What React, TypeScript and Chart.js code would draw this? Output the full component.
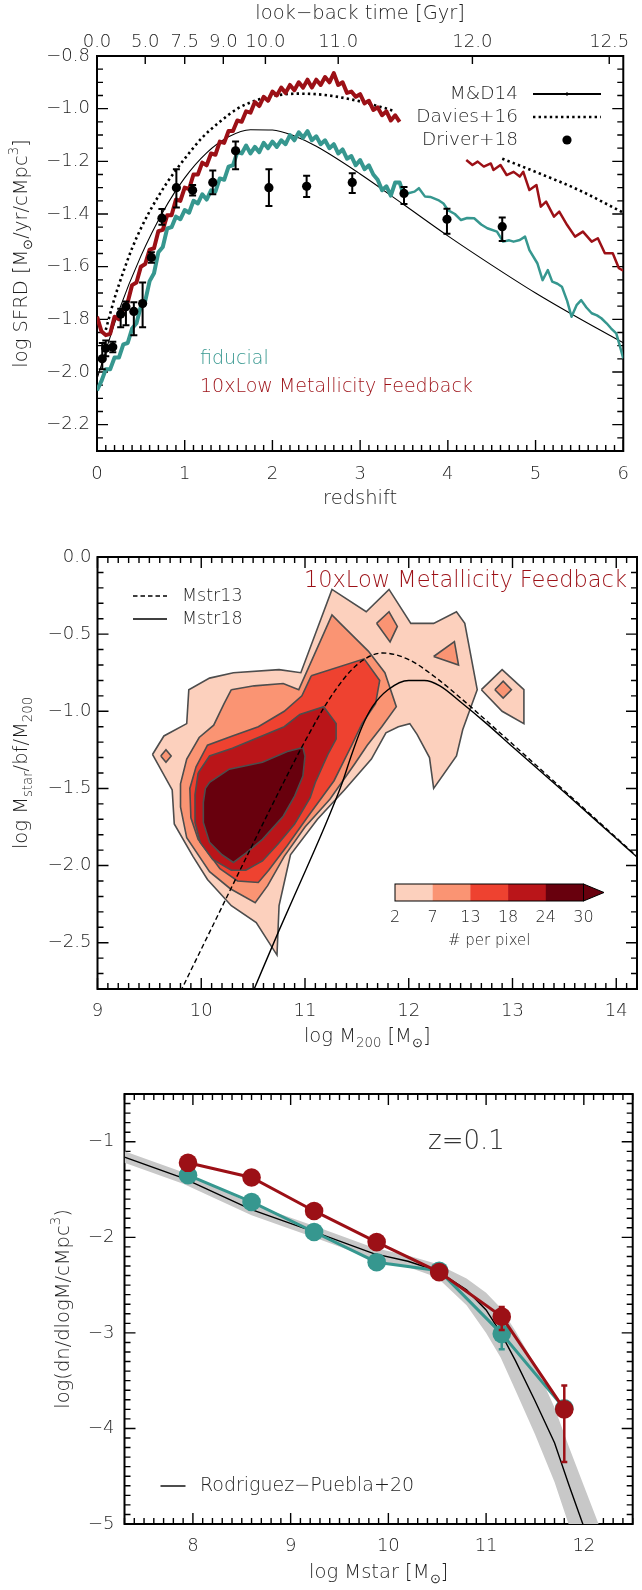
import React, { useEffect, useRef } from 'react';
import { Chart, registerables } from 'chart.js';

Chart.register(...registerables);

const FONT = "'DejaVu Sans', 'Liberation Sans', sans-serif";
const WEIGHT = 300;
const INK = '#1e1e1e';
const TEAL = '#36978f';
const CRIMSON = '#9c1016';
const TICK_SIZE = 18;
const TITLE_SIZE = 19.5;

// ---------------- Cosmic star-formation-rate density ----------------
const redshiftTicks = [0, 1, 2, 3, 4, 5, 6];
const sfrdTicks = [-2.2, -2.0, -1.8, -1.6, -1.4, -1.2, -1.0, -0.8];
const lookbackTickZ = [0, 0.55, 1.0, 1.44, 1.92, 2.75, 4.28, 5.84];
const lookbackTickLabels = ['0.0', '5.0', '7.5', '9.0', '10.0', '11.0', '12.0', '12.5'];

const md14Z = [0, 0.25, 0.5, 0.75, 1, 1.25, 1.5, 1.75, 2, 2.25, 2.5, 3, 3.5, 4, 4.5, 5, 5.5, 6];
const md14Sfrd = [-2.026, -1.767, -1.56, -1.393, -1.263, -1.168, -1.107, -1.08, -1.081, -1.104, -1.143, -1.248, -1.365, -1.483, -1.594, -1.7, -1.797, -1.889];

const davies16Z = [0.1, 0.2, 0.3, 0.4, 0.5, 0.6, 0.8, 1.0, 1.2, 1.4, 1.6, 1.8, 2.0, 2.3, 2.6, 2.9, 3.2, 3.4, 4.0, 4.62, 5.0, 5.5, 6.0];
const davies16Sfrd = [-1.84, -1.72, -1.62, -1.53, -1.455, -1.39, -1.28, -1.19, -1.11, -1.05, -1.0, -0.97, -0.952, -0.943, -0.948, -0.965, -0.99, -1.01, null, -1.19, -1.24, -1.31, -1.395];

const driver18Z = [0.06, 0.1, 0.18, 0.27, 0.33, 0.42, 0.52, 0.62, 0.74, 0.905, 1.09, 1.32, 1.58, 1.96, 2.39, 2.91, 3.5, 3.99, 4.62];
const driver18Sfrd = [-1.95, -1.91, -1.905, -1.78, -1.752, -1.77, -1.74, -1.565, -1.416, -1.3, -1.31, -1.28, -1.16, -1.3, -1.295, -1.28, -1.322, -1.42, -1.448];
const driver18ErrUp = [0.06, 0.03, 0.02, 0.02, 0.02, 0.035, 0.08, 0.02, 0.035, 0.07, 0.02, 0.045, 0.035, 0.07, 0.04, 0.035, 0.025, 0.04, 0.035];
const driver18ErrDown = [0.04, 0.03, 0.02, 0.05, 0.07, 0.09, 0.09, 0.02, 0.025, 0.075, 0.02, 0.045, 0.07, 0.07, 0.04, 0.04, 0.04, 0.055, 0.055];

const fiducialZ = [
  0, 0.05, 0.1, 0.15, 0.2, 0.25, 0.3, 0.35, 0.4, 0.45, 0.5, 0.55, 0.6, 0.65, 0.7, 0.75, 0.8, 0.85, 0.9, 0.95,
  1, 1.05, 1.1, 1.15, 1.2, 1.25, 1.3, 1.35, 1.4, 1.45, 1.5, 1.55, 1.6, 1.65, 1.7, 1.75, 1.8, 1.85, 1.9, 1.95,
  2, 2.05, 2.1, 2.15, 2.2, 2.25, 2.3, 2.35, 2.4, 2.45, 2.5, 2.55, 2.6, 2.65, 2.7, 2.75, 2.8, 2.85, 2.9, 2.95,
  3, 3.05, 3.1, 3.15, 3.2, 3.25, 3.3, 3.35, 3.4, 3.45,
  3.5, 3.56, 3.62, 3.67, 3.74, 3.8, 3.89, 3.95, 4.0, 4.08, 4.15, 4.22, 4.3, 4.38, 4.45, 4.56, 4.63, 4.7, 4.75, 4.82,
  4.88, 4.93, 5.02, 5.08, 5.14, 5.19, 5.25, 5.3, 5.36, 5.41, 5.47, 5.52, 5.58, 5.64, 5.7, 5.75, 5.81, 5.86, 5.92, 5.96, 6.0,
];
const fiducialSfrd = [
  -2.07, -2.035, -1.99, -1.99, -1.945, -1.945, -1.895, -1.89, -1.835, -1.815,
  -1.75, -1.73, -1.655, -1.625, -1.545, -1.525, -1.455, -1.45, -1.41, -1.42,
  -1.385, -1.395, -1.35, -1.36, -1.325, -1.345, -1.31, -1.315, -1.265, -1.27,
  -1.22, -1.215, -1.165, -1.17, -1.14, -1.17, -1.145, -1.165, -1.13, -1.15,
  -1.125, -1.145, -1.12, -1.135, -1.1, -1.12, -1.09, -1.11, -1.085, -1.12,
  -1.105, -1.135, -1.12, -1.15, -1.135, -1.17, -1.155, -1.19, -1.18, -1.215,
  -1.195, -1.23, -1.215, -1.25, -1.27, -1.31, -1.295, -1.33, -1.28, -1.28,
  -1.33, -1.32, -1.315, -1.302, -1.334, -1.335, -1.347, -1.36, -1.385, -1.4,
  -1.423, -1.415, -1.416, -1.44, -1.454, -1.467, -1.505, -1.5, -1.505, -1.499,
  -1.486, -1.537, -1.587, -1.651, -1.613, -1.657, -1.665, -1.676, -1.73, -1.79,
  -1.745, -1.727, -1.755, -1.777, -1.785, -1.796, -1.815, -1.834, -1.853, -1.9, -1.948,
];

const lowZFeedbackZ = [
  0, 0.05, 0.1, 0.15, 0.2, 0.25, 0.3, 0.35, 0.4, 0.45, 0.5, 0.55, 0.6, 0.65, 0.7, 0.75, 0.8, 0.85, 0.9, 0.95,
  1, 1.05, 1.1, 1.15, 1.2, 1.25, 1.3, 1.35, 1.4, 1.45, 1.5, 1.55, 1.6, 1.65, 1.7, 1.75, 1.8, 1.85, 1.9, 1.95,
  2, 2.05, 2.1, 2.15, 2.2, 2.25, 2.3, 2.35, 2.4, 2.45, 2.5, 2.55, 2.6, 2.65, 2.7, 2.75, 2.8, 2.85, 2.9, 2.95,
  3, 3.05, 3.1, 3.15, 3.2, 3.25, 3.3, 3.35, 3.4, 3.45, 3.8,
  4.21, 4.28, 4.34, 4.41, 4.49, 4.52, 4.6, 4.67, 4.75, 4.82, 4.86, 4.93, 5.01, 5.06, 5.12, 5.21, 5.27, 5.36, 5.45, 5.54,
  5.64, 5.71, 5.79, 5.88, 5.95, 6.0,
];
const lowZFeedbackSfrd = [
  -1.79, -1.845, -1.86, -1.855, -1.79, -1.8, -1.76, -1.735, -1.67, -1.66,
  -1.6, -1.59, -1.535, -1.53, -1.465, -1.46, -1.405, -1.405, -1.345, -1.35,
  -1.3, -1.305, -1.25, -1.25, -1.205, -1.215, -1.17, -1.175, -1.125, -1.13,
  -1.085, -1.085, -1.045, -1.05, -1.01, -1.015, -0.975, -0.99, -0.955, -0.97,
  -0.935, -0.95, -0.92, -0.94, -0.91, -0.93, -0.9, -0.92, -0.89, -0.92,
  -0.89, -0.91, -0.88, -0.9, -0.865, -0.91, -0.9, -0.94, -0.935, -0.955,
  -0.945, -0.98, -0.97, -1.005, -0.995, -1.025, -1.01, -1.045, -1.025, -1.05, null,
  -1.195, -1.214, -1.201, -1.22, -1.208, -1.233, -1.214, -1.252, -1.24, -1.258,
  -1.24, -1.309, -1.29, -1.372, -1.353, -1.41, -1.391, -1.442, -1.486, -1.467,
  -1.505, -1.492, -1.549, -1.549, -1.606, -1.615,
];

// ---------------- Stellar-to-halo mass relation ----------------
const haloMassTicks = [9, 10, 11, 12, 13, 14];
const shmrTicks = [-2.5, -2.0, -1.5, -1.0, -0.5, 0.0];
const contourLevels = [2, 7, 13, 18, 24, 30];
const contourColors = ['#fcd0bd', '#fa9473', '#ee4230', '#ba1519', '#68000d'];

const contourLevel1 = [
  [9.53, -1.28], [9.64, -1.16], [9.86, -1.08], [9.88, -0.86], [10.08, -0.785], [10.31, -0.75], [10.75, -0.73],
  [10.96, -0.75], [11.26, -0.21], [11.59, -0.355], [11.81, -0.21], [12.02, -0.43], [12.24, -0.43], [12.46, -0.355],
  [12.54, -0.43], [12.66, -0.86], [12.6, -0.97], [12.52, -1.12], [12.46, -1.29], [12.24, -1.5], [12.2, -1.3],
  [12.08, -1.15], [12.01, -1.08], [11.9, -1.1], [11.78, -1.14], [11.64, -1.31], [11.38, -1.51], [11.12, -1.7],
  [10.86, -1.93], [10.82, -2.05], [10.75, -2.26], [10.73, -2.58], [10.53, -2.37], [10.29, -2.26], [10.06, -2.09],
  [9.92, -1.94], [9.74, -1.73], [9.72, -1.51],
];
const contourLevel1Island = [[12.7, -0.86], [12.9, -0.73], [13.11, -0.86], [13.11, -1.08], [12.9, -1.0]];
const contourLevel2 = [
  [10.29, -0.86], [10.51, -0.835], [10.79, -0.82], [10.94, -0.86], [11.26, -0.375], [11.34, -0.43], [11.61, -0.61],
  [11.77, -0.75], [11.88, -0.97], [11.74, -1.1], [11.6, -1.22], [11.48, -1.34], [11.24, -1.57], [11.0, -1.75],
  [10.8, -1.94], [10.64, -2.13], [10.52, -2.24], [10.28, -2.15], [10.08, -2.04], [9.86, -1.82], [9.8, -1.62],
  [9.8, -1.47], [9.86, -1.31], [9.98, -1.17], [10.12, -1.09], [10.22, -0.95],
];
const contourLevel2Islands = [
  [[9.61, -1.29], [9.66, -1.25], [9.71, -1.29], [9.66, -1.33]],
  [[11.69, -0.43], [11.81, -0.355], [11.89, -0.45], [11.82, -0.55]],
  [[12.24, -0.645], [12.44, -0.548], [12.48, -0.7]],
  [[12.83, -0.86], [12.91, -0.805], [12.99, -0.86], [12.91, -0.915]],
];
const contourLevel3 = [
  [11.06, -0.77], [11.57, -0.66], [11.72, -0.8], [11.68, -0.95], [11.55, -1.08], [11.45, -1.22], [11.28, -1.45],
  [11.03, -1.68], [10.83, -1.87], [10.65, -2.03], [10.55, -2.11], [10.35, -2.1], [10.18, -2.02], [9.97, -1.83],
  [9.9, -1.69], [9.89, -1.5], [9.95, -1.36], [10.06, -1.22], [10.3, -1.16], [10.55, -1.1], [10.8, -1.0], [10.97, -0.9],
];
const contourLevel4 = [
  [9.97, -1.4], [10.08, -1.29], [10.3, -1.24], [10.55, -1.17], [10.8, -1.1], [10.95, -1.02], [11.18, -0.97],
  [11.3, -1.08], [11.3, -1.18], [11.22, -1.28], [11.1, -1.46], [11.05, -1.56], [10.9, -1.73], [10.74, -1.86],
  [10.59, -1.97], [10.43, -2.03], [10.29, -2.03], [10.11, -1.96], [9.99, -1.85], [9.94, -1.72], [9.94, -1.54],
];
const contourLevel5 = [
  [10.04, -1.5], [10.08, -1.46], [10.27, -1.375], [10.59, -1.33], [10.83, -1.26], [10.98, -1.235], [11.0, -1.29],
  [10.98, -1.42], [10.9, -1.55], [10.79, -1.68], [10.59, -1.83], [10.43, -1.92], [10.31, -1.98], [10.2, -1.93],
  [10.08, -1.85], [10.02, -1.72], [10.02, -1.59],
];

const mstr13Mass = [9.8, 10.0, 10.25, 10.5, 10.75, 11.0, 11.25, 11.5, 11.75, 12.0, 12.25, 12.5, 12.75, 13.0, 13.5, 14.0, 14.2];
const mstr13Ratio = [-2.817, -2.542, -2.199, -1.857, -1.519, -1.194, -0.905, -0.699, -0.622, -0.665, -0.776, -0.914, -1.062, -1.212, -1.515, -1.819, -1.941];
const mstr18Mass = [10.51, 10.75, 11.0, 11.2, 11.35, 11.45, 11.55, 11.65, 11.8, 12.0, 12.15, 12.3, 12.5, 12.75, 13.0, 13.5, 14.0, 14.2];
const mstr18Ratio = [-2.8, -2.42, -2.04, -1.73, -1.48, -1.28, -1.1, -0.97, -0.86, -0.8, -0.8, -0.835, -0.94, -1.08, -1.23, -1.525, -1.825, -1.945];

// ---------------- Stellar mass function at z = 0.1 ----------------
const stellarMassTicks = [8, 9, 10, 11, 12];
const smfTicks = [-5, -4, -3, -2, -1];
const rpMass = [7.3, 7.9, 8.6, 9.25, 9.85, 10.2, 10.5, 10.8, 11.0, 11.15, 11.3, 11.5, 11.7, 11.85, 12.0, 12.2];
const rpCenter = [-1.16, -1.38, -1.71, -1.945, -2.17, -2.25, -2.35, -2.55, -2.76, -3.0, -3.29, -3.71, -4.15, -4.6, -5.03, -5.6];
const rpUpper = [-1.1, -1.32, -1.65, -1.885, -2.11, -2.19, -2.28, -2.43, -2.58, -2.74, -2.98, -3.33, -3.78, -4.2, -4.6, -5.13];
const rpLower = [-1.22, -1.44, -1.77, -2.005, -2.23, -2.31, -2.42, -2.71, -3.0, -3.26, -3.6, -4.06, -4.56, -5.02, -5.5, -6.1];

const smfMass = [7.95, 8.6, 9.24, 9.88, 10.52, 11.16, 11.8];
const smfFiducial = [-1.35, -1.63, -1.944, -2.26, -2.35, -3.01, -3.79];
const smfFiducialErrUp = [0, 0, 0, 0, 0, 0.11, 0];
const smfFiducialErrDown = [0, 0, 0, 0, 0, 0.16, 0];
const smfLowZFeedback = [-1.22, -1.374, -1.724, -2.05, -2.364, -2.83, -3.8];
const smfLowZFeedbackErrUp = [0, 0, 0, 0, 0, 0.1, 0.25];
const smfLowZFeedbackErrDown = [0, 0, 0, 0, 0, 0.14, 0.55];

// ---------------- helpers ----------------
const xy = (xs: number[], ys: (number | null)[]) => xs.map((x, i) => ({ x, y: ys[i] }));
const ring = (p: number[][]) => [...p, p[0]].map(([x, y]) => ({ x, y }));
const minus = (s: string) => s.replace('-', '\u2212');
const fmt1 = (v: number) => minus(v.toFixed(1));
const fmt0 = (v: number) => minus(v.toFixed(0));

function steps(from: number, to: number, step: number): number[] {
  const out: number[] = [];
  const n = Math.round((to - from) / step);
  for (let i = 0; i <= n; i++) out.push(+(from + i * step).toFixed(6));
  return out;
}

function stackOrder(ds: any[]) {
  return ds.map((d, i) => ({ ...d, order: ds.length - i }));
}

type Seg = { t: string; s?: 'sub' | 'sup' };
function drawRich(ctx: CanvasRenderingContext2D, segs: Seg[], x: number, y: number, size: number,
  align: 'left' | 'center' | 'right', rotate: boolean, color: string) {
  ctx.save();
  ctx.translate(x, y);
  if (rotate) ctx.rotate(-Math.PI / 2);
  const font = (sz: number) => `${WEIGHT} ${sz}px ${FONT}`;
  const sizes = segs.map((s) => (s.s ? size * 0.68 : size));
  const widths = segs.map((s, i) => { ctx.font = font(sizes[i]); return ctx.measureText(s.t).width; });
  const total = widths.reduce((a, b) => a + b, 0);
  let cx = align === 'center' ? -total / 2 : align === 'right' ? -total : 0;
  ctx.textBaseline = 'middle';
  ctx.textAlign = 'left';
  ctx.fillStyle = color;
  segs.forEach((s, i) => {
    ctx.font = font(sizes[i]);
    const dy = s.s === 'sub' ? size * 0.34 : s.s === 'sup' ? -size * 0.38 : 0;
    ctx.fillText(s.t, cx, dy);
    cx += widths[i];
  });
  ctx.restore();
}

type FrameSpec = {
  xMajor: number[]; xMinor: number[]; yMajor: number[]; yMinor: number[];
  topMajor?: number[]; topMinor?: number[]; topLen?: number;
};
function idlFrame(spec: FrameSpec) {
  const major = 11, minor = 6;
  return {
    id: 'idlFrame',
    beforeDatasetsDraw(chart: any) {
      const { ctx, chartArea: a } = chart;
      const sx = chart.scales.x, sy = chart.scales.y;
      ctx.save();
      ctx.strokeStyle = '#000';
      ctx.lineWidth = 1.4;
      ctx.beginPath();
      const px = (v: number) => { const p = sx.getPixelForValue(v); return p >= a.left - 0.5 && p <= a.right + 0.5 ? p : null; };
      const py = (v: number) => { const p = sy.getPixelForValue(v); return p >= a.top - 0.5 && p <= a.bottom + 0.5 ? p : null; };
      const xt = (v: number, len: number, top: boolean) => {
        const p = px(v); if (p === null) return;
        const y0 = top ? a.top : a.bottom;
        ctx.moveTo(p, y0); ctx.lineTo(p, top ? y0 + len : y0 - len);
      };
      const yt = (v: number, len: number) => {
        const p = py(v); if (p === null) return;
        ctx.moveTo(a.left, p); ctx.lineTo(a.left + len, p);
        ctx.moveTo(a.right, p); ctx.lineTo(a.right - len, p);
      };
      spec.xMinor.forEach((v) => xt(v, minor, false));
      spec.xMajor.forEach((v) => xt(v, major, false));
      (spec.topMinor ?? spec.xMinor).forEach((v) => xt(v, minor, true));
      (spec.topMajor ?? spec.xMajor).forEach((v) => xt(v, spec.topLen ?? major, true));
      spec.yMinor.forEach((v) => yt(v, minor));
      spec.yMajor.forEach((v) => yt(v, major));
      ctx.stroke();
      ctx.lineWidth = 2;
      ctx.strokeRect(a.left, a.top, a.right - a.left, a.bottom - a.top);
      ctx.restore();
    },
  };
}

type Bars = { index: number; up: number[]; down: number[]; color: string; width: number; cap: number };
function errorBars(list: Bars[]) {
  return {
    id: 'errorBars',
    beforeDatasetDraw(chart: any, args: any) {
      const b = list.find((e) => e.index === args.index);
      if (!b) return;
      const meta = chart.getDatasetMeta(args.index);
      const raw = chart.data.datasets[args.index].data;
      const sy = chart.scales.y;
      const ctx = chart.ctx;
      ctx.save();
      ctx.strokeStyle = b.color;
      ctx.lineWidth = b.width;
      meta.data.forEach((el: any, i: number) => {
        if (!b.up[i] && !b.down[i]) return;
        const yT = sy.getPixelForValue(raw[i].y + b.up[i]);
        const yB = sy.getPixelForValue(raw[i].y - b.down[i]);
        ctx.beginPath();
        ctx.moveTo(el.x, yT); ctx.lineTo(el.x, yB);
        ctx.moveTo(el.x - b.cap, yT); ctx.lineTo(el.x + b.cap, yT);
        ctx.moveTo(el.x - b.cap, yB); ctx.lineTo(el.x + b.cap, yB);
        ctx.stroke();
      });
      ctx.restore();
    },
  };
}

const tickFont = { family: FONT, size: TICK_SIZE, weight: WEIGHT };

function linearAxis(position: string, min: number, max: number, values: number[], label: (v: number, i: number) => string,
  thickness: number, pad: number) {
  const horizontal = position === 'top' || position === 'bottom';
  return {
    type: 'linear', position, min, max,
    afterFit: (s: any) => { if (horizontal) s.height = thickness; else s.width = thickness; },
    afterBuildTicks: (s: any) => { s.ticks = values.map((value) => ({ value })); },
    ticks: {
      autoSkip: false, maxRotation: 0, minRotation: 0, padding: pad, color: INK, font: tickFont,
      callback: (v: number, i: number) => label(v, i),
    },
    grid: { display: false, drawTicks: false },
    border: { display: false },
  };
}

const baseOptions = {
  responsive: false,
  animation: false,
  devicePixelRatio: 1,
  events: [],
  plugins: { legend: { display: false }, tooltip: { enabled: false } },
};

// noisy simulation curves are thick below z = 3.5 and thinner beyond
const simWidth = (c: any) => (c.p0.parsed.x < 3.5 ? 4 : 2.5);

// ---------------- panel configs ----------------
function sfrdConfig(): any {
  const datasets = stackOrder([
    { data: xy(davies16Z, davies16Sfrd), borderColor: '#000', borderWidth: 2.6, borderDash: [2.4, 3.2], pointRadius: 0, cubicInterpolationMode: 'monotone' },
    { data: xy(md14Z, md14Sfrd), borderColor: '#000', borderWidth: 1.1, pointRadius: 0, cubicInterpolationMode: 'monotone' },
    {
      data: xy(fiducialZ, fiducialSfrd), borderColor: TEAL, borderWidth: 3, pointRadius: 0, borderJoinStyle: 'round',
      segment: { borderWidth: simWidth },
    },
    {
      data: xy(lowZFeedbackZ, lowZFeedbackSfrd), borderColor: CRIMSON, borderWidth: 3, pointRadius: 0, borderJoinStyle: 'round',
      segment: { borderWidth: simWidth },
    },
    { data: xy(driver18Z, driver18Sfrd), showLine: false, pointRadius: 4.6, pointBackgroundColor: '#000', pointBorderWidth: 0, borderColor: '#000' },
  ]);

  const decor = {
    id: 'sfrdDecor',
    afterDraw(chart: any) {
      const { ctx, chartArea: a } = chart;
      const cx = (a.left + a.right) / 2;
      drawRich(ctx, [{ t: 'look\u2212back time [Gyr]' }], cx, 14, TITLE_SIZE, 'center', false, INK);
      drawRich(ctx, [{ t: 'redshift' }], cx, 499, TITLE_SIZE, 'center', false, INK);
      drawRich(ctx, [{ t: 'log SFRD [M' }, { t: '\u2299', s: 'sub' }, { t: '/yr/cMpc' }, { t: '3', s: 'sup' }, { t: ']' }],
        22, (a.top + a.bottom) / 2, TITLE_SIZE, 'center', true, INK);
      drawRich(ctx, [{ t: 'fiducial' }], a.left + 103, 359, 19, 'left', false, TEAL);
      drawRich(ctx, [{ t: '10xLow Metallicity Feedback' }], a.left + 103, 387, 19, 'left', false, CRIMSON);

      const tx = 518, l0 = 533, l1 = 601;
      drawRich(ctx, [{ t: 'M&D14' }], tx, 94, 18.5, 'right', false, INK);
      drawRich(ctx, [{ t: 'Davies+16' }], tx, 117, 18.5, 'right', false, INK);
      drawRich(ctx, [{ t: 'Driver+18' }], tx, 140, 18.5, 'right', false, INK);
      ctx.save();
      ctx.strokeStyle = '#000';
      ctx.lineWidth = 2;
      ctx.beginPath(); ctx.moveTo(l0, 94); ctx.lineTo(l1, 94); ctx.stroke();
      ctx.lineWidth = 1;
      ctx.beginPath(); ctx.moveTo((l0 + l1) / 2, 92); ctx.lineTo((l0 + l1) / 2, 96); ctx.stroke();
      ctx.lineWidth = 2.6;
      ctx.setLineDash([2.4, 3.2]);
      ctx.beginPath(); ctx.moveTo(l0, 117); ctx.lineTo(l1, 117); ctx.stroke();
      ctx.setLineDash([]);
      ctx.fillStyle = '#000';
      ctx.beginPath(); ctx.arc(567, 140, 4.6, 0, Math.PI * 2); ctx.fill();
      ctx.restore();
    },
  };

  return {
    type: 'line',
    data: { datasets },
    options: {
      ...baseOptions,
      layout: { padding: { left: 0, right: 6, top: 0, bottom: 0 } },
      scales: {
        x: linearAxis('bottom', 0, 6, redshiftTicks, (v) => v.toFixed(0), 64, 13),
        x2: linearAxis('top', 0, 6, lookbackTickZ, (_v, i) => lookbackTickLabels[i], 56, 3),
        y: linearAxis('left', -2.3, -0.8, sfrdTicks, fmt1, 97, 7),
      },
    },
    plugins: [
      idlFrame({
        xMajor: redshiftTicks, xMinor: steps(0, 6, 0.1), yMajor: sfrdTicks, yMinor: steps(-2.3, -0.8, 0.05),
        topMajor: lookbackTickZ, topMinor: [], topLen: 8,
      }),
      errorBars([{ index: 4, up: driver18ErrUp, down: driver18ErrDown, color: '#000', width: 2, cap: 3.5 }]),
      decor,
    ],
  };
}

function shmrConfig(): any {
  const contour = (p: number[][], level: number) => ({
    data: ring(p), fill: 'shape', backgroundColor: contourColors[level], borderColor: '#4d4d4d', borderWidth: 1.6,
    pointRadius: 0, tension: 0,
  });
  const datasets = stackOrder([
    contour(contourLevel1, 0),
    contour(contourLevel1Island, 0),
    contour(contourLevel2, 1),
    ...contourLevel2Islands.map((p) => contour(p, 1)),
    contour(contourLevel3, 2),
    contour(contourLevel4, 3),
    contour(contourLevel5, 4),
    { data: xy(mstr13Mass, mstr13Ratio), borderColor: '#000', borderWidth: 1.4, borderDash: [5, 3], pointRadius: 0, cubicInterpolationMode: 'monotone' },
    { data: xy(mstr18Mass, mstr18Ratio), borderColor: '#000', borderWidth: 1.4, pointRadius: 0, cubicInterpolationMode: 'monotone' },
  ]);

  const decor = {
    id: 'shmrDecor',
    afterDraw(chart: any) {
      const { ctx, chartArea: a } = chart;
      drawRich(ctx, [{ t: 'log M' }, { t: '200', s: 'sub' }, { t: ' [M' }, { t: '\u2299', s: 'sub' }, { t: ']' }],
        (a.left + a.right) / 2, 522, TITLE_SIZE, 'center', false, INK);
      drawRich(ctx, [{ t: 'log M' }, { t: 'star', s: 'sub' }, { t: '/bf/M' }, { t: '200', s: 'sub' }],
        22, (a.top + a.bottom) / 2, TITLE_SIZE, 'center', true, INK);
      drawRich(ctx, [{ t: '10xLow Metallicity Feedback' }], a.right - 10, 66, 22.5, 'right', false, CRIMSON);

      ctx.save();
      ctx.strokeStyle = '#000';
      ctx.lineWidth = 1.4;
      ctx.setLineDash([4.5, 3]);
      ctx.beginPath(); ctx.moveTo(133, 81); ctx.lineTo(167, 81); ctx.stroke();
      ctx.setLineDash([]);
      ctx.beginPath(); ctx.moveTo(133, 104); ctx.lineTo(167, 104); ctx.stroke();
      ctx.restore();
      drawRich(ctx, [{ t: 'Mstr13' }], 182, 81, 17.5, 'left', false, INK);
      drawRich(ctx, [{ t: 'Mstr18' }], 182, 104, 17.5, 'left', false, INK);

      // colour bar
      const x0 = 395, x1 = 583.5, y0 = 369, y1 = 386, tip = 604;
      const w = (x1 - x0) / contourColors.length;
      ctx.save();
      contourColors.forEach((c, i) => { ctx.fillStyle = c; ctx.fillRect(x0 + i * w, y0, w + 0.5, y1 - y0); });
      ctx.fillStyle = contourColors[contourColors.length - 1];
      ctx.beginPath(); ctx.moveTo(x1, y0); ctx.lineTo(tip, (y0 + y1) / 2); ctx.lineTo(x1, y1); ctx.closePath(); ctx.fill();
      ctx.strokeStyle = '#000';
      ctx.lineWidth = 1;
      ctx.stroke();
      ctx.strokeRect(x0, y0, x1 - x0, y1 - y0);
      ctx.restore();
      contourLevels.forEach((lv, i) => drawRich(ctx, [{ t: String(lv) }], x0 + i * w, 403, 16, 'center', false, INK));
      drawRich(ctx, [{ t: '# per pixel' }], (x0 + x1) / 2, 426, 15, 'center', false, INK);
    },
  };

  return {
    type: 'line',
    data: { datasets },
    options: {
      ...baseOptions,
      layout: { padding: { left: 0, right: 5, top: 42, bottom: 0 } },
      scales: {
        x: linearAxis('bottom', 9, 14.2, haloMassTicks, (v) => v.toFixed(0), 61, 12),
        y: linearAxis('left', -2.8, 0, shmrTicks, fmt1, 97.5, 6),
      },
    },
    plugins: [
      idlFrame({ xMajor: haloMassTicks, xMinor: steps(9, 14.2, 0.1), yMajor: shmrTicks, yMinor: steps(-2.8, 0, 0.1) }),
      decor,
    ],
  };
}

function smfConfig(): any {
  const datasets = stackOrder([
    { data: xy(rpMass, rpUpper), borderWidth: 0, pointRadius: 0, fill: false },
    { data: xy(rpMass, rpLower), borderWidth: 0, pointRadius: 0, fill: '-1', backgroundColor: '#c8c8c8' },
    { data: xy(rpMass, rpCenter), borderColor: '#000', borderWidth: 1.4, pointRadius: 0 },
    {
      data: xy(smfMass, smfFiducial), borderColor: TEAL, borderWidth: 3, pointRadius: 9.3,
      pointBackgroundColor: TEAL, pointBorderWidth: 0,
    },
    {
      data: xy(smfMass, smfLowZFeedback), borderColor: CRIMSON, borderWidth: 3, pointRadius: 9.3,
      pointBackgroundColor: CRIMSON, pointBorderWidth: 0,
    },
  ]);

  const decor = {
    id: 'smfDecor',
    afterDraw(chart: any) {
      const { ctx, chartArea: a } = chart;
      drawRich(ctx, [{ t: 'log Mstar [M' }, { t: '\u2299', s: 'sub' }, { t: ']' }],
        (a.left + a.right) / 2, 523, TITLE_SIZE, 'center', false, INK);
      drawRich(ctx, [{ t: 'log(dn/dlogM/cMpc' }, { t: '3', s: 'sup' }, { t: ')' }],
        64, (a.top + a.bottom) / 2, TITLE_SIZE, 'center', true, INK);
      drawRich(ctx, [{ t: 'z=0.1' }], 428, 92, 26, 'left', false, '#333');
      ctx.save();
      ctx.strokeStyle = '#000';
      ctx.lineWidth = 1.4;
      ctx.beginPath(); ctx.moveTo(160.5, 436); ctx.lineTo(185.5, 436); ctx.stroke();
      ctx.restore();
      drawRich(ctx, [{ t: 'Rodriguez\u2212Puebla+20' }], 200, 436, 19, 'left', false, INK);
    },
  };

  return {
    type: 'line',
    data: { datasets },
    options: {
      ...baseOptions,
      layout: { padding: { left: 0, right: 5, top: 44, bottom: 0 } },
      scales: {
        x: linearAxis('bottom', 7.3, 12.5, stellarMassTicks, (v) => v.toFixed(0), 66, 12),
        y: linearAxis('left', -5, -0.5, smfTicks, fmt0, 124.5, 10),
      },
    },
    plugins: [
      idlFrame({ xMajor: stellarMassTicks, xMinor: steps(7.3, 12.5, 0.1), yMajor: smfTicks, yMinor: steps(-5, -0.5, 0.1) }),
      errorBars([
        { index: 3, up: smfFiducialErrUp, down: smfFiducialErrDown, color: TEAL, width: 2.5, cap: 3 },
        { index: 4, up: smfLowZFeedbackErrUp, down: smfLowZFeedbackErrDown, color: CRIMSON, width: 2.5, cap: 3 },
      ]),
      decor,
    ],
  };
}

export default function App() {
  const sfrdRef = useRef<HTMLCanvasElement>(null);
  const shmrRef = useRef<HTMLCanvasElement>(null);
  const smfRef = useRef<HTMLCanvasElement>(null);

  useEffect(() => {
    const charts = [
      new Chart(sfrdRef.current as HTMLCanvasElement, sfrdConfig()),
      new Chart(shmrRef.current as HTMLCanvasElement, shmrConfig()),
      new Chart(smfRef.current as HTMLCanvasElement, smfConfig()),
    ];
    return () => charts.forEach((c) => c.destroy());
  }, []);

  const place = (top: number, height: number): React.CSSProperties => ({
    position: 'absolute', left: 0, top, width: 642, height, display: 'block',
  });

  return (
    <div style={{ position: 'absolute', left: 0, top: 0, width: 642, height: 1590, background: '#fff' }}>
      <canvas ref={sfrdRef} width={642} height={515} style={place(0, 515)} />
      <canvas ref={shmrRef} width={642} height={535} style={place(515, 535)} />
      <canvas ref={smfRef} width={642} height={540} style={place(1050, 540)} />
    </div>
  );
}
